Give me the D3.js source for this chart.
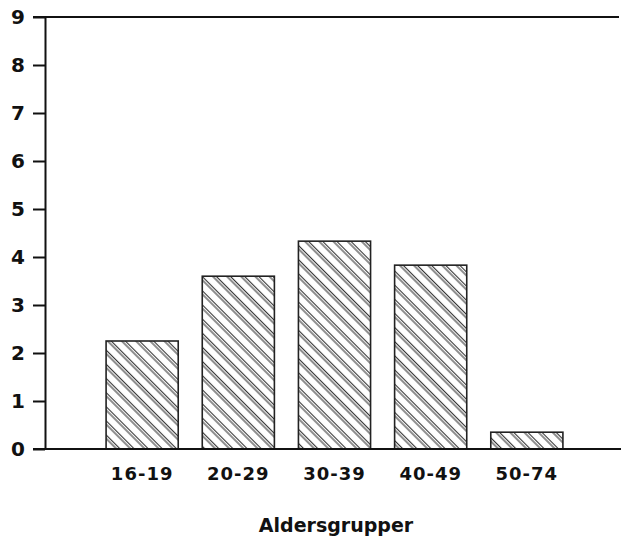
<!DOCTYPE html>
<html>
<head>
<meta charset="utf-8">
<script src="https://cdn.jsdelivr.net/npm/d3@7"></script>
<style>
  body { margin: 0; background: #fff; }
  svg text { font-family: "DejaVu Sans", sans-serif; font-weight: bold; fill: #111; }
</style>
</head>
<body>
<div id="chart"></div>
<script>
// age groups and their values
var ageGroups = ["16-19", "20-29", "30-39", "40-49", "50-74"];
var values = [2.25, 3.6, 4.33, 3.83, 0.35];
var yTicks = [0, 1, 2, 3, 4, 5, 6, 7, 8, 9];
var xTitle = "Aldersgrupper";

var W = 621, H = 539;
var svg = d3.select("#chart").append("svg")
    .attr("width", W)
    .attr("height", H);

// double diagonal hatch for the bars
var defs = svg.append("defs");
var pat = defs.append("pattern")
    .attr("id", "hatch")
    .attr("patternUnits", "userSpaceOnUse")
    .attr("width", 10)
    .attr("height", 10)
    .attr("patternTransform", "rotate(45)");
pat.append("rect").attr("width", 10).attr("height", 10).attr("fill", "#fff");
[2.5, 5.0].forEach(function(yy) {
    pat.append("line")
        .attr("x1", 0).attr("x2", 10)
        .attr("y1", yy).attr("y2", yy)
        .attr("stroke", "#333")
        .attr("stroke-width", 1.1);
});

// scales
var y = d3.scaleLinear().domain([0, 9]).range([449, 17]);
var x = d3.scaleBand()
    .domain(ageGroups)
    .range([58, 611])
    .paddingInner(0.25)
    .paddingOuter(0.5);

var axisX = 45;

// bars
svg.append("g").selectAll("rect")
    .data(ageGroups)
    .enter()
    .append("rect")
    .attr("x", function(d) { return x(d); })
    .attr("y", function(d, i) { return y(values[i]); })
    .attr("width", x.bandwidth())
    .attr("height", function(d, i) { return y(0) - y(values[i]); })
    .attr("fill", "url(#hatch)")
    .attr("stroke", "#222")
    .attr("stroke-width", 1.6);

// y axis
var yAxis = d3.axisLeft(y)
    .tickValues(yTicks)
    .tickSize(12)
    .tickSizeOuter(0)
    .tickPadding(8)
    .tickFormat(d3.format("d"));

var gy = svg.append("g")
    .attr("transform", "translate(" + axisX + ",0)")
    .call(yAxis)
    .attr("font-family", null);
gy.select(".domain").attr("stroke", "#111").attr("stroke-width", 2);
gy.selectAll(".tick line").attr("stroke", "#111").attr("stroke-width", 2);
gy.selectAll(".tick text")
    .attr("fill", "#111")
    .style("font-size", "20px");

// top frame line and baseline
svg.append("line")
    .attr("x1", axisX - 12).attr("x2", 619)
    .attr("y1", y(9)).attr("y2", y(9))
    .attr("stroke", "#111").attr("stroke-width", 2);
svg.append("line")
    .attr("x1", axisX - 12).attr("x2", W)
    .attr("y1", y(0)).attr("y2", y(0))
    .attr("stroke", "#111").attr("stroke-width", 2);

// category labels
svg.append("g").selectAll("text")
    .data(ageGroups)
    .enter()
    .append("text")
    .attr("x", function(d) { return x(d) + x.bandwidth() / 2; })
    .attr("y", 480)
    .attr("text-anchor", "middle")
    .style("font-size", "18px")
    .attr("letter-spacing", 1)
    .text(function(d) { return d; });

// axis title
svg.append("text")
    .attr("x", 336)
    .attr("y", 532)
    .attr("text-anchor", "middle")
    .style("font-size", "19px")
    .text(xTitle);
</script>
</body>
</html>
